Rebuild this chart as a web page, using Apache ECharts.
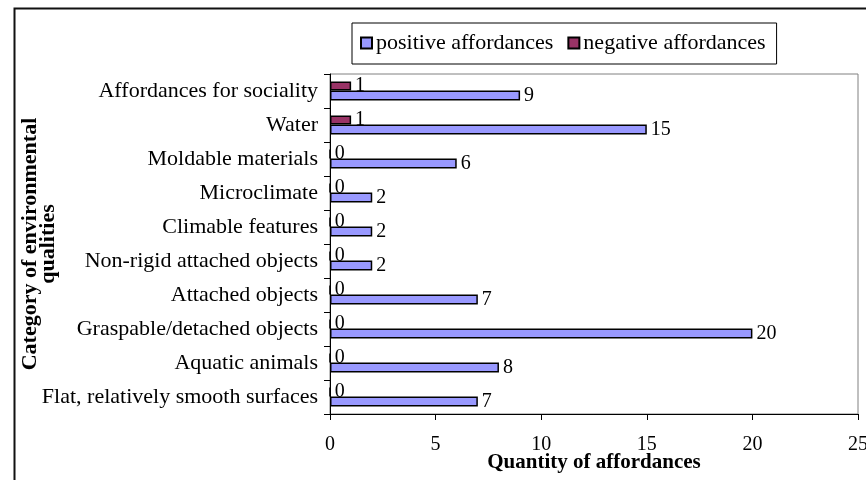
<!DOCTYPE html>
<html>
<head>
<meta charset="utf-8">
<script src="https://cdn.jsdelivr.net/npm/echarts@6/dist/echarts.min.js"></script>
<style>
  html, body { margin: 0; padding: 0; background: #fff; }
  #chart { width: 866px; height: 480px; }
</style>
</head>
<body>
<div id="chart"></div>
<script>
// Categories listed from top to bottom
const categories = [
  'Affordances for sociality',
  'Water',
  'Moldable materials',
  'Microclimate',
  'Climable features',
  'Non-rigid attached objects',
  'Attached objects',
  'Graspable/detached objects',
  'Aquatic animals',
  'Flat, relatively smooth surfaces'
];
const positiveAffordances = [9, 15, 6, 2, 2, 2, 7, 20, 8, 7];
const negativeAffordances = [1, 1, 0, 0, 0, 0, 0, 0, 0, 0];
const xTicks = { min: 0, max: 25, interval: 5 };

const serif = '"Liberation Serif", "Times New Roman", serif';

const chart = echarts.init(document.getElementById('chart'), null, { renderer: 'canvas' });

const labelStyle = {
  show: true,
  position: 'right',
  distance: 4,
  color: '#000',
  fontFamily: serif,
  fontSize: 20
};

chart.setOption({
  backgroundColor: '#fff',
  animation: false,
  graphic: [{
    type: 'rect',
    left: 12, top: 6,
    shape: { width: 900, height: 520 },
    style: { fill: 'none', stroke: '#111', lineWidth: 2 },
    z: -1
  }],
  legend: {
    data: ['positive affordances', 'negative affordances'],
    left: 352,
    top: 23,
    padding: [9, 11, 10, 8],
    itemWidth: 11,
    itemHeight: 11,
    itemGap: 14,
    borderColor: '#000',
    borderWidth: 1,
    icon: 'rect',
    textStyle: { fontFamily: serif, fontSize: 22, color: '#000', padding: [0, 0, 0, -1] }
  },
  grid: {
    left: 330,
    right: 8,
    top: 74,
    bottom: 66,
    containLabel: false,
    outerBoundsMode: 'none',
    show: true,
    borderColor: '#808080',
    borderWidth: 1
  },
  xAxis: {
    type: 'value',
    min: xTicks.min,
    max: xTicks.max,
    interval: xTicks.interval,
    name: 'Quantity of affordances',
    nameLocation: 'middle',
    nameGap: 38,
    nameMoveOverlap: false,
    nameTextStyle: { fontFamily: serif, fontSize: 21, fontWeight: 'bold', color: '#000' },
    axisLine: { show: true, lineStyle: { color: '#000', width: 1 } },
    axisTick: { show: true, inside: false, length: 6, lineStyle: { color: '#000' } },
    axisLabel: { fontFamily: serif, fontSize: 20, color: '#000', margin: 21 },
    splitLine: { show: false }
  },
  yAxis: {
    type: 'category',
    data: categories,
    inverse: true,
    name: 'Category of environmental\nqualities',
    nameLocation: 'middle',
    nameGap: 273,
    nameRotate: 90,
    nameMoveOverlap: false,
    nameTextStyle: { fontFamily: serif, fontSize: 22, fontWeight: 'bold', color: '#000', lineHeight: 18 },
    axisLine: { show: true, lineStyle: { color: '#000', width: 1 } },
    axisTick: { show: true, inside: false, length: 6, lineStyle: { color: '#000' } },
    axisLabel: { fontFamily: serif, fontSize: 22, color: '#000', margin: 12 },
    splitLine: { show: false }
  },
  series: [
    {
      name: 'negative affordances',
      type: 'bar',
      data: negativeAffordances,
      barWidth: 9,
      barGap: '0%',
      itemStyle: { color: '#993366', borderColor: '#000', borderWidth: 1.5 },
      label: labelStyle
    },
    {
      name: 'positive affordances',
      type: 'bar',
      data: positiveAffordances,
      barWidth: 10,
      barGap: '0%',
      itemStyle: { color: '#9999FF', borderColor: '#000', borderWidth: 1.5 },
      label: labelStyle
    }
  ]
});
</script>
</body>
</html>
